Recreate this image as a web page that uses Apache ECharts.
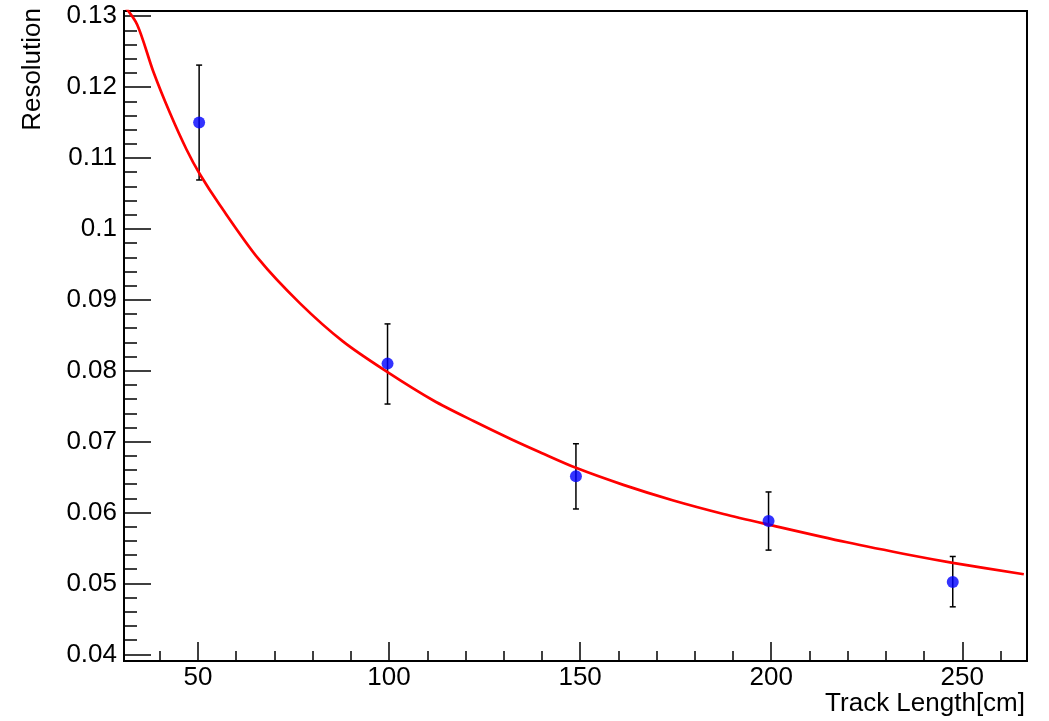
<!DOCTYPE html>
<html><head><meta charset="utf-8">
<script src="https://cdn.jsdelivr.net/npm/echarts@6/dist/echarts.min.js"></script>
<style>html,body{margin:0;padding:0;background:#fff}#c{width:1049px;height:721px}</style>
</head><body><div id="c"></div>
<script>
// Measured points
const trackLength = [50.3, 99.6, 148.9, 199.3, 247.5];
const resolution  = [0.1150, 0.0810, 0.0651, 0.0588, 0.0502];
const errLow      = [0.1069, 0.0753, 0.0605, 0.0547, 0.0467];
const errHigh     = [0.1231, 0.0866, 0.0697, 0.0629, 0.0538];
// Fit curve
const fitX = [30.64, 34.1, 38.3, 42.7, 47.0, 50.5, 55.8, 65.8, 76.7, 88.0, 99.6, 111.6, 122.1, 132.1, 139.5, 148.9, 161.3, 174.4, 187.5, 199.3, 219.8, 237.3, 247.5, 266.1];
const fitY = [0.1315, 0.1288, 0.1222, 0.1163, 0.1112, 0.1077, 0.1033, 0.0958, 0.0895, 0.0841, 0.0798, 0.0758, 0.0729, 0.0703, 0.0685, 0.0663, 0.0639, 0.0617, 0.0598, 0.0583, 0.0558, 0.0539, 0.0529, 0.0513];
// Ticks
const xMajorTicks = [50, 100, 150, 200, 250];
const xMinorTicks = [40, 60, 70, 80, 90, 110, 120, 130, 140, 160, 170, 180, 190, 210, 220, 230, 240, 260];
const yMajorTicks = [0.04, 0.05, 0.06, 0.07, 0.08, 0.09, 0.1, 0.11, 0.12, 0.13];
const yMinorTicks = [0.042, 0.044, 0.046, 0.048, 0.052, 0.054, 0.056, 0.058, 0.062, 0.064, 0.066, 0.068, 0.072, 0.074, 0.076, 0.078, 0.082, 0.084, 0.086, 0.088, 0.092, 0.094, 0.096, 0.098, 0.102, 0.104, 0.106, 0.108, 0.112, 0.114, 0.116, 0.118, 0.122, 0.124, 0.126, 0.128];
const xTitle = 'Track Length[cm]';
const yTitle = 'Resolution';

const X_MIN = 30.64, X_MAX = 266.93, Y_MIN = 0.03906, Y_MAX = 0.13073;
const FONT = 'Liberation Sans, Arial, Helvetica, sans-serif';
const FS = 26;

const chart = echarts.init(document.getElementById('c'), null, {renderer: 'canvas'});
const baseX = {type: 'value', min: X_MIN, max: X_MAX, position: 'bottom', splitLine: {show: false}};
const baseY = {type: 'value', min: Y_MIN, max: Y_MAX, position: 'left', splitLine: {show: false}};
chart.setOption({
  animation: false,
  backgroundColor: '#fff',
  grid: {left: 124, right: 22, top: 11, bottom: 60, show: true, borderColor: '#000', borderWidth: 2, backgroundColor: 'transparent'},
  xAxis: [
    Object.assign({}, baseX, {
      name: xTitle, nameLocation: 'end', nameGap: -2, nameMoveOverlap: false,
      nameTextStyle: {fontFamily: FONT, fontSize: FS, color: '#000', align: 'right', verticalAlign: 'top', padding: [30, 0, 0, 0]},
      axisLine: {show: true, onZero: false, lineStyle: {color: '#000', width: 2}},
      axisTick: {show: true, inside: true, length: 19, customValues: xMajorTicks, lineStyle: {color: '#000', width: 1.5}},
      axisLabel: {show: true, customValues: xMajorTicks, margin: 4, fontFamily: FONT, fontSize: FS, color: '#000'}
    }),
    Object.assign({}, baseX, {
      axisLine: {show: false, onZero: false},
      axisTick: {show: true, inside: true, length: 10, customValues: xMinorTicks, lineStyle: {color: '#000', width: 1.5}},
      axisLabel: {show: false}
    })
  ],
  yAxis: [
    Object.assign({}, baseY, {
      name: yTitle, nameLocation: 'end', nameGap: 3, nameRotate: 90, nameMoveOverlap: false,
      nameTextStyle: {fontFamily: FONT, fontSize: FS, color: '#000', align: 'right', verticalAlign: 'bottom', padding: [0, 0, 78, 0]},
      axisLine: {show: true, onZero: false, lineStyle: {color: '#000', width: 2}},
      axisTick: {show: true, inside: true, length: 27, customValues: yMajorTicks, lineStyle: {color: '#000', width: 1.5}},
      axisLabel: {show: true, customValues: yMajorTicks, margin: 7, fontFamily: FONT, fontSize: FS, color: '#000'}
    }),
    Object.assign({}, baseY, {
      axisLine: {show: false, onZero: false},
      axisTick: {show: true, inside: true, length: 13, customValues: yMinorTicks, lineStyle: {color: '#000', width: 1.5}},
      axisLabel: {show: false}
    })
  ],
  series: [
    {
      type: 'custom', xAxisIndex: 0, yAxisIndex: 0, z: 2,
      data: trackLength.map((x, i) => [x, errLow[i], errHigh[i]]),
      renderItem: function (params, api) {
        const x = api.value(0);
        const top = api.coord([x, api.value(2)]);
        const bot = api.coord([x, api.value(1)]);
        const cap = 3;
        const st = {stroke: '#000', lineWidth: 1.5};
        return {type: 'group', children: [
          {type: 'line', shape: {x1: top[0], y1: top[1], x2: bot[0], y2: bot[1]}, style: st},
          {type: 'line', shape: {x1: top[0] - cap, y1: top[1], x2: top[0] + cap, y2: top[1]}, style: st},
          {type: 'line', shape: {x1: bot[0] - cap, y1: bot[1], x2: bot[0] + cap, y2: bot[1]}, style: st}
        ]};
      }
    },
    {
      type: 'line', xAxisIndex: 0, yAxisIndex: 0, z: 3, clip: true,
      data: fitX.map((x, i) => [x, fitY[i]]),
      showSymbol: false, symbol: 'none', smooth: 0.3,
      lineStyle: {color: '#ff0000', width: 2.7}
    },
    {
      type: 'scatter', xAxisIndex: 0, yAxisIndex: 0, z: 4,
      data: trackLength.map((x, i) => [x, resolution[i]]),
      symbol: 'circle', symbolSize: 12,
      itemStyle: {color: '#0000ff'}
    }
  ]
});
</script>
</body></html>
